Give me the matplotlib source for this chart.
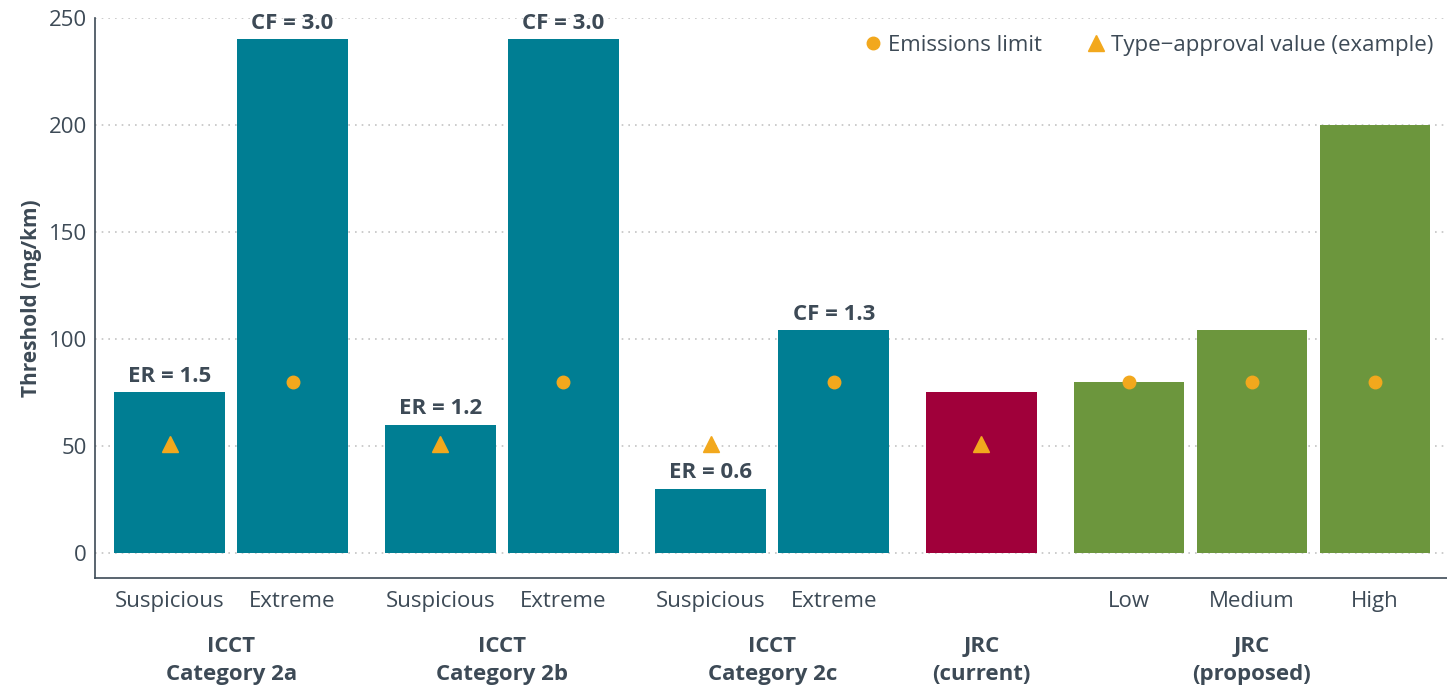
import numpy as np
import matplotlib
matplotlib.use("Agg")
import matplotlib.pyplot as plt

plt.rcParams['font.family'] = ['Open Sans', 'DejaVu Sans']

# data
categories = ['Suspicious', 'Extreme', 'Suspicious', 'Extreme', 'Suspicious', 'Extreme',
              '', 'Low', 'Medium', 'High']
groups = ['ICCT\nCategory 2a', 'ICCT\nCategory 2b', 'ICCT\nCategory 2c',
          'JRC\n(current)', 'JRC\n(proposed)']
group_sizes = [2, 2, 2, 1, 3]
thresholds = [75, 240, 60, 240, 30, 104, 75, 80, 104, 200]
bar_labels = ['ER = 1.5', 'CF = 3.0', 'ER = 1.2', 'CF = 3.0', 'ER = 0.6', 'CF = 1.3',
              '', '', '', '']
bar_kind = ['icct'] * 6 + ['jrc_current'] + ['jrc_proposed'] * 3
# markers: 'limit' -> emissions limit dot, 'ta' -> type-approval triangle
marker_kind = ['ta', 'limit', 'ta', 'limit', 'ta', 'limit', 'ta', 'limit', 'limit', 'limit']
emissions_limit = 80
type_approval = 51

colors = {'icct': '#007e93', 'jrc_current': '#a0003a', 'jrc_proposed': '#6c963d'}
marker_color = '#f2a81d'
text_color = '#3d4a56'

# bar positions: step 1 inside a group, 1.2 between groups
x = []
pos = 0.0
group_centers = []
for size in group_sizes:
    xs = [pos + i for i in range(size)]
    x.extend(xs)
    group_centers.append(np.mean(xs))
    pos = xs[-1] + 1.2
x = np.array(x)

fig = plt.figure(figsize=(14.47, 6.86), dpi=100)
ax = fig.add_axes([0.0657, 0.1574, 0.9343, 0.8164])

ax.bar(x, thresholds, width=0.9, color=[colors[k] for k in bar_kind], zorder=2)

for xi, h, lab in zip(x, thresholds, bar_labels):
    if lab:
        ax.annotate(lab, (xi, h), xytext=(0, 4), textcoords='offset points',
                    ha='center', va='bottom', fontsize=16, fontweight='bold',
                    color=text_color)

xl = x[[i for i, m in enumerate(marker_kind) if m == 'limit']]
xt = x[[i for i, m in enumerate(marker_kind) if m == 'ta']]
ax.plot(xl, [emissions_limit] * len(xl), 'o', color=marker_color, ms=9,
        ls='none', zorder=3, label='Emissions limit')
ax.plot(xt, [type_approval] * len(xt), '^', color=marker_color, ms=11,
        ls='none', zorder=3, label='Type\u2212approval value (example)')

ax.set_ylim(-11.7, 250)
ax.set_xlim(-0.606, 10.386)
ax.set_yticks(np.arange(0, 251, 50))
ax.yaxis.grid(True, linestyle=(0, (1, 3)), color='#c4c4c4', linewidth=1.2, zorder=0)
ax.set_axisbelow(True)

ax.set_xticks(x)
ax.set_xticklabels(categories)
ax.tick_params(axis='both', length=0, labelsize=16, colors=text_color)
ax.tick_params(axis='x', pad=9)
ax.tick_params(axis='y', pad=6)

for side in ['top', 'right']:
    ax.spines[side].set_visible(False)
for side in ['left', 'bottom']:
    ax.spines[side].set_color(text_color)
    ax.spines[side].set_linewidth(1.2)

for gc, g in zip(group_centers, groups):
    ax.text(gc, -0.103, g, transform=ax.get_xaxis_transform(), ha='center', va='top',
            fontsize=16, fontweight='bold', color=text_color, linespacing=1.45)

ax.set_ylabel('Threshold (mg/km)', fontsize=15, fontweight='bold', color=text_color,
              labelpad=5)

leg = ax.legend(loc='upper right', ncol=2, frameon=False, fontsize=16,
                handletextpad=0.1, columnspacing=1.8, handlelength=1.2,
                bbox_to_anchor=(1.005, 1.006))
for t in leg.get_texts():
    t.set_color(text_color)

fig.savefig('out.png', dpi=100)
